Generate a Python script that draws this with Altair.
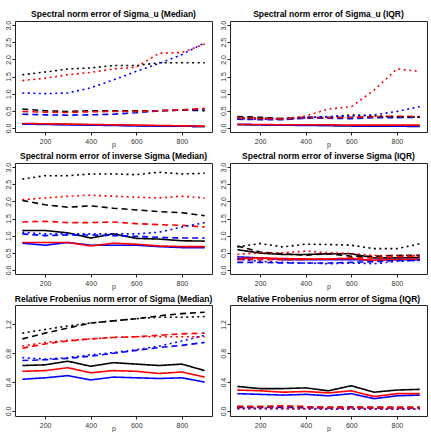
import altair as alt
import pandas as pd

p_values = [100, 200, 300, 400, 500, 600, 700, 800, 900]

colors = ["black", "red", "blue"]
styles = ["solid", "dashed", "dotted"]

# ---- Panel 1: Spectral norm error of Sigma_u (Median)
su_med_black_solid = [0.12, 0.11, 0.10, 0.09, 0.08, 0.07, 0.06, 0.05, 0.04]
su_med_red_solid = [0.13, 0.12, 0.11, 0.10, 0.09, 0.08, 0.07, 0.06, 0.05]
su_med_blue_solid = [0.11, 0.10, 0.09, 0.08, 0.07, 0.06, 0.05, 0.05, 0.04]
su_med_black_dashed = [0.55, 0.50, 0.48, 0.50, 0.50, 0.50, 0.50, 0.52, 0.50]
su_med_red_dashed = [0.48, 0.46, 0.45, 0.47, 0.48, 0.48, 0.50, 0.53, 0.57]
su_med_blue_dashed = [0.40, 0.38, 0.37, 0.38, 0.40, 0.44, 0.50, 0.52, 0.55]
su_med_black_dotted = [1.55, 1.63, 1.72, 1.75, 1.82, 1.82, 1.90, 1.90, 1.90]
su_med_red_dotted = [1.38, 1.45, 1.55, 1.62, 1.72, 1.77, 2.18, 2.20, 2.45]
su_med_blue_dotted = [1.02, 1.00, 1.02, 1.17, 1.40, 1.65, 1.88, 2.14, 2.48]

# ---- Panel 2: Spectral norm error of Sigma_u (IQR)
su_iqr_black_solid = [0.10, 0.09, 0.08, 0.08, 0.07, 0.06, 0.05, 0.05, 0.04]
su_iqr_red_solid = [0.10, 0.10, 0.09, 0.09, 0.09, 0.08, 0.08, 0.08, 0.08]
su_iqr_blue_solid = [0.10, 0.09, 0.08, 0.07, 0.07, 0.06, 0.06, 0.05, 0.05]
su_iqr_black_dashed = [0.33, 0.31, 0.27, 0.31, 0.30, 0.30, 0.32, 0.31, 0.31]
su_iqr_red_dashed = [0.28, 0.27, 0.26, 0.30, 0.30, 0.31, 0.33, 0.34, 0.33]
su_iqr_blue_dashed = [0.25, 0.24, 0.24, 0.28, 0.28, 0.27, 0.30, 0.30, 0.31]
su_iqr_black_dotted = [0.30, 0.28, 0.27, 0.30, 0.32, 0.38, 0.35, 0.32, 0.32]
su_iqr_red_dotted = [0.30, 0.28, 0.26, 0.35, 0.55, 0.62, 1.10, 1.72, 1.65]
su_iqr_blue_dotted = [0.27, 0.25, 0.25, 0.30, 0.33, 0.35, 0.38, 0.48, 0.62]

# ---- Panel 3: Spectral norm error of inverse Sigma (Median)
is_med_black_solid = [1.15, 1.15, 1.08, 0.93, 1.05, 0.92, 0.90, 0.85, 0.84]
is_med_red_solid = [0.80, 0.80, 0.80, 0.70, 0.78, 0.75, 0.70, 0.68, 0.68]
is_med_blue_solid = [0.78, 0.72, 0.80, 0.72, 0.72, 0.72, 0.68, 0.65, 0.65]
is_med_black_dashed = [2.03, 1.90, 1.83, 1.87, 1.80, 1.75, 1.70, 1.67, 1.58]
is_med_red_dashed = [1.40, 1.42, 1.38, 1.38, 1.40, 1.35, 1.32, 1.30, 1.25]
is_med_blue_dashed = [1.05, 1.00, 1.02, 1.02, 1.00, 0.98, 0.95, 0.93, 0.93]
is_med_black_dotted = [2.65, 2.75, 2.75, 2.80, 2.80, 2.78, 2.85, 2.80, 2.82]
is_med_red_dotted = [2.05, 2.10, 2.15, 2.18, 2.15, 2.12, 2.10, 2.15, 2.10]
is_med_blue_dotted = [1.10, 1.05, 1.05, 1.05, 1.05, 1.05, 1.10, 1.25, 1.38]

# ---- Panel 4: Spectral norm error of inverse Sigma (IQR)
is_iqr_black_solid = [0.59, 0.49, 0.45, 0.45, 0.47, 0.47, 0.35, 0.35, 0.36]
is_iqr_red_solid = [0.33, 0.35, 0.33, 0.32, 0.32, 0.33, 0.28, 0.30, 0.32]
is_iqr_blue_solid = [0.38, 0.35, 0.30, 0.30, 0.30, 0.30, 0.28, 0.30, 0.30]
is_iqr_black_dashed = [0.70, 0.52, 0.47, 0.43, 0.47, 0.40, 0.40, 0.42, 0.43]
is_iqr_red_dashed = [0.30, 0.30, 0.30, 0.30, 0.32, 0.35, 0.35, 0.38, 0.40]
is_iqr_blue_dashed = [0.22, 0.22, 0.20, 0.20, 0.20, 0.22, 0.24, 0.27, 0.28]
is_iqr_black_dotted = [0.67, 0.77, 0.67, 0.75, 0.74, 0.72, 0.62, 0.62, 0.76]
is_iqr_red_dotted = [0.45, 0.50, 0.50, 0.55, 0.50, 0.48, 0.42, 0.42, 0.42]
is_iqr_blue_dotted = [0.32, 0.25, 0.22, 0.20, 0.18, 0.20, 0.18, 0.25, 0.28]

# ---- Panel 5: Relative Frobenius norm error of Sigma (Median)
rf_med_black_solid = [0.63, 0.64, 0.69, 0.62, 0.67, 0.65, 0.63, 0.65, 0.56]
rf_med_red_solid = [0.55, 0.56, 0.60, 0.53, 0.56, 0.55, 0.52, 0.54, 0.47]
rf_med_blue_solid = [0.44, 0.46, 0.49, 0.43, 0.47, 0.46, 0.45, 0.46, 0.40]
rf_med_black_dashed = [1.00, 1.08, 1.15, 1.22, 1.25, 1.28, 1.32, 1.35, 1.37]
rf_med_red_dashed = [0.87, 0.93, 0.97, 1.00, 1.02, 1.03, 1.05, 1.07, 1.08]
rf_med_blue_dashed = [0.70, 0.71, 0.73, 0.76, 0.80, 0.84, 0.88, 0.91, 0.95]
rf_med_black_dotted = [1.08, 1.13, 1.18, 1.22, 1.25, 1.28, 1.30, 1.30, 1.31]
rf_med_red_dotted = [0.90, 0.95, 0.98, 1.00, 1.02, 1.03, 1.03, 1.03, 1.03]
rf_med_blue_dotted = [0.74, 0.72, 0.74, 0.78, 0.81, 0.85, 0.90, 0.97, 1.05]

# ---- Panel 6: Relative Frobenius norm error of Sigma (IQR)
rf_iqr_black_solid = [0.34, 0.31, 0.31, 0.32, 0.28, 0.35, 0.26, 0.29, 0.30]
rf_iqr_red_solid = [0.29, 0.28, 0.26, 0.27, 0.25, 0.28, 0.20, 0.24, 0.24]
rf_iqr_blue_solid = [0.24, 0.23, 0.22, 0.23, 0.21, 0.24, 0.17, 0.21, 0.22]
rf_iqr_black_dashed = [0.06, 0.06, 0.065, 0.06, 0.05, 0.055, 0.05, 0.05, 0.05]
rf_iqr_red_dashed = [0.065, 0.06, 0.07, 0.06, 0.05, 0.055, 0.05, 0.05, 0.05]
rf_iqr_blue_dashed = [0.05, 0.05, 0.05, 0.045, 0.04, 0.045, 0.04, 0.04, 0.04]
rf_iqr_black_dotted = [0.035, 0.035, 0.035, 0.03, 0.03, 0.03, 0.03, 0.03, 0.03]
rf_iqr_red_dotted = [0.04, 0.04, 0.04, 0.035, 0.035, 0.035, 0.03, 0.03, 0.03]
rf_iqr_blue_dotted = [0.03, 0.03, 0.03, 0.03, 0.025, 0.025, 0.025, 0.025, 0.025]

titles = [
    "Spectral norm error of Sigma_u (Median)",
    "Spectral norm error of Sigma_u (IQR)",
    "Spectral norm error of inverse Sigma (Median)",
    "Spectral norm error of inverse Sigma (IQR)",
    "Relative Frobenius norm error of Sigma (Median)",
    "Relative Frobenius norm error of Sigma (IQR)",
]
prefixes = ["su_med", "su_iqr", "is_med", "is_iqr", "rf_med", "rf_iqr"]

y_ticks_spec = [0.0, 0.5, 1.0, 1.5, 2.0, 2.5, 3.0]
y_ticks_frob = [0.0, 0.4, 0.8, 1.2]
x_ticks = [200, 400, 600, 800]

FONT = "Liberation Sans"
W, H = 197, 111

draw_order = [("solid", "black"), ("solid", "blue"), ("solid", "red"),
              ("dashed", "black"), ("dashed", "blue"), ("dashed", "red"),
              ("dotted", "black"), ("dotted", "blue"), ("dotted", "red")]


def panel(idx):
    prefix = prefixes[idx]
    rows = []
    k = 0
    for style, color in draw_order:
        vals = globals()[f"{prefix}_{color}_{style}"]
        for p, v in zip(p_values, vals):
            rows.append({"p": p, "value": v, "color": color, "style": style,
                         "series": f"{k:02d}_{color}_{style}"})
        k += 1
    df = pd.DataFrame(rows)
    if prefix.startswith("rf"):
        dom = [-0.07, 1.47]
        ticks = y_ticks_frob
    else:
        dom = [-0.12, 3.12]
        ticks = y_ticks_spec
    return alt.Chart(df).mark_line(strokeWidth=1.6, clip=True).encode(
        x=alt.X("p:Q", scale=alt.Scale(domain=[68, 932], nice=False, zero=False),
                axis=alt.Axis(values=x_ticks, title="p", grid=False, domain=False,
                              tickSize=3, tickColor="#222", labelFontSize=7,
                              labelFont=FONT, labelColor="#333", labelPadding=2,
                              titleFont=FONT, titleFontSize=7, titleFontWeight="normal",
                              titleColor="#333", titlePadding=-4)),
        y=alt.Y("value:Q", scale=alt.Scale(domain=dom, nice=False, zero=False),
                axis=alt.Axis(values=ticks, format=".1f", title=None, grid=False,
                              domain=False, tickSize=3, tickColor="#222",
                              labelAngle=270, labelFontSize=7, labelFont=FONT,
                              labelColor="#333", labelPadding=1)),
        color=alt.Color("color:N", scale=alt.Scale(domain=colors,
                        range=["#000000", "#ff0000", "#0000ff"]), legend=None),
        strokeDash=alt.StrokeDash("style:N", scale=alt.Scale(domain=styles,
                                  range=[[1, 0], [6, 4], [2, 3.5]]), legend=None),
        detail="series:N",
        order=alt.Order("p:Q"),
    ).properties(
        width=W, height=H,
        title=alt.TitleParams(titles[idx], font=FONT, fontSize=8.5, fontWeight="bold",
                              anchor="middle", offset=2, color="#000"),
    )


chart = alt.concat(*[panel(i) for i in range(6)], columns=2,
                   spacing={"row": 31, "column": 18}, bounds="flush").properties(
    padding={"left": 3, "top": 9, "right": 0, "bottom": 0},
    background="white",
).configure_view(stroke="#222", strokeWidth=1).resolve_scale(
    x="independent", y="independent", color="shared", strokeDash="shared")

chart.save("out.html", embed_options={"renderer": "svg", "actions": False})
